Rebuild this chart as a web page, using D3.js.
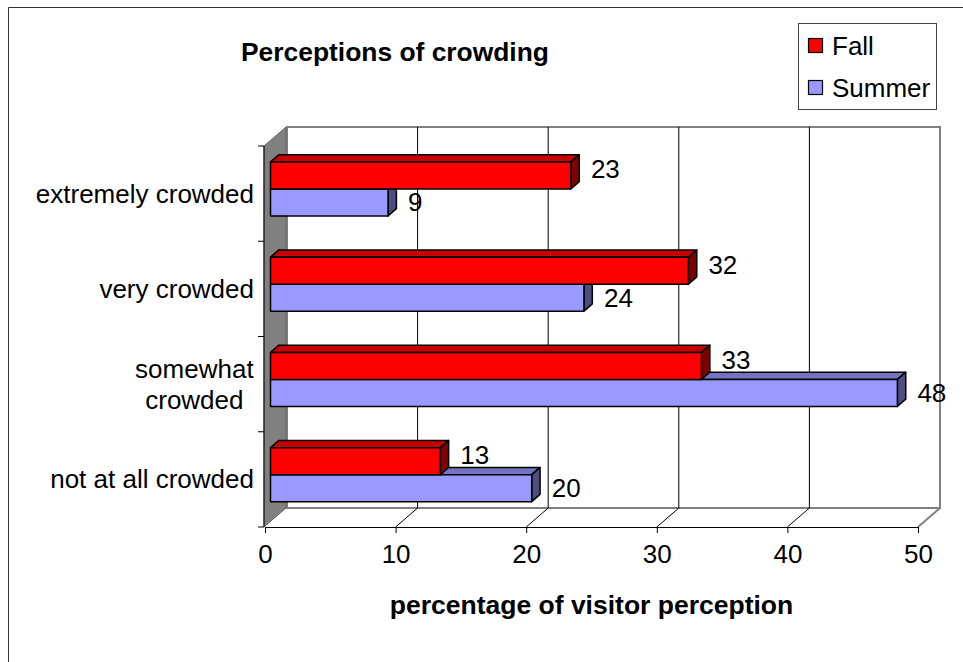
<!DOCTYPE html>
<html>
<head>
<meta charset="utf-8">
<script src="https://cdn.jsdelivr.net/npm/d3@7"></script>
<style>
  html, body { margin: 0; padding: 0; background: #fff; }
  svg { display: block; font-family: "Liberation Sans", Arial, sans-serif; }
</style>
</head>
<body>
<svg id="chart" width="963" height="662"></svg>
<script>
// Survey responses: share of visitors (%) reporting each level of crowding
const categories = ["extremely crowded", "very crowded", "somewhat crowded", "not at all crowded"];
const fall = [23, 32, 33, 13];
const summer = [9, 24, 48, 20];
const seriesNames = ["Fall", "Summer"];
const xTicks = [0, 10, 20, 30, 40, 50];

const svg = d3.select("#chart");
const fs = 26;

// outer chart frame
svg.append("path")
  .attr("d", "M8.5,662V7.5H963")
  .attr("fill", "none").attr("stroke", "#333").attr("stroke-width", 1);

// 3-D box geometry: front plane plus a depth offset toward the upper right
const depthX = 22, depthY = 19;
const x = d3.scaleLinear().domain([0, 50]).range([265, 918]);
const y = d3.scaleBand().domain(categories).range([146, 527]);
const floorY = y.range()[1], topY = y.range()[0];
const proj = (px, py, d) => [px + depthX * d, py - depthY * d];

const styles = {
  Fall:   { front: "#ff0000", top: "#c80000", side: "#800000", labelShift: -6 },
  Summer: { front: "#9999ff", top: "#7373bf", side: "#4d4d80", labelShift: 0 }
};

// back wall
const wall = svg.append("g");
wall.append("rect")
  .attr("x", x(0) + depthX).attr("y", topY - depthY)
  .attr("width", x(50) - x(0)).attr("height", floorY - topY)
  .attr("fill", "#fff").attr("stroke", "#808080").attr("stroke-width", 2);

// vertical gridlines on the back wall
wall.selectAll("line.grid").data(xTicks.slice(1, -1)).join("line")
  .attr("class", "grid")
  .attr("x1", d => x(d) + depthX).attr("x2", d => x(d) + depthX)
  .attr("y1", topY - depthY).attr("y2", floorY - depthY)
  .attr("stroke", "#000").attr("stroke-width", 1);

// floor depth lines from each tick
wall.selectAll("line.floor").data(xTicks.slice(1)).join("line")
  .attr("class", "floor")
  .attr("x1", d => x(d)).attr("y1", floorY)
  .attr("x2", d => x(d) + depthX).attr("y2", floorY - depthY)
  .attr("stroke", d => d === 50 ? "#808080" : "#000")
  .attr("stroke-width", d => d === 50 ? 2 : 1);

// left side wall
wall.append("polygon")
  .attr("points", [[x(0) - 1, topY], proj(x(0) - 1, topY, 1), proj(x(0) - 1, floorY, 1), [x(0) - 1, floorY]].join(" "))
  .attr("fill", "#808080").attr("stroke", "#666").attr("stroke-width", 1);

// bottom value axis
const xAxis = d3.axisBottom(x).tickValues(xTicks).tickSize(6).tickSizeOuter(0).tickPadding(12);
const gx = svg.append("g").attr("transform", `translate(0,${floorY})`).call(xAxis);
gx.select(".domain").attr("stroke", "#000");
gx.selectAll(".tick line").attr("stroke", "#000");
gx.selectAll(".tick text").attr("font-size", fs).attr("fill", "#000")
  .attr("font-family", "Liberation Sans, Arial, sans-serif");

// left category axis
const gy = svg.append("g");
gy.append("line")
  .attr("x1", x(0) - 1).attr("x2", x(0) - 1).attr("y1", topY).attr("y2", floorY)
  .attr("stroke", "#000");
const boundaries = categories.map(c => y(c)).concat([floorY]);
gy.selectAll("line.tk").data(boundaries).join("line")
  .attr("class", "tk")
  .attr("x1", x(0) - 7).attr("x2", x(0) - 1)
  .attr("y1", d => d).attr("y2", d => d)
  .attr("stroke", "#000");

// category labels (wrapped where the chart wraps them)
const labelRight = 254;
categories.forEach(c => {
  const lines = c === "somewhat crowded" ? ["somewhat", "crowded"] : [c];
  const cy = y(c) + y.bandwidth() / 2;
  const lh = 31;
  const t = gy.append("text")
    .attr("font-size", fs).attr("fill", "#000")
    .attr("text-anchor", lines.length > 1 ? "middle" : "end");
  lines.forEach((ln, i) => {
    t.append("tspan").attr("x", labelRight).attr("y", cy + (i - (lines.length - 1) / 2) * lh)
      .attr("dy", "0.35em").text(ln);
  });
  if (lines.length > 1) {
    const w = t.node().getBBox().width;
    t.selectAll("tspan").attr("x", labelRight - w / 2);
  }
});

// bars: two series stacked vertically within each category band
const barH = 27;
const d0 = 0.25, d1 = 0.63;
const inner = d3.scaleBand().domain(seriesNames).range([0, barH * 2]);
const rows = categories.map((c, i) => ({ c, Fall: fall[i], Summer: summer[i] }));

const bars = svg.append("g");
const labels = [];
rows.forEach(r => {
  const top0 = y(r.c) + y.bandwidth() / 2 - barH;
  // lower series first so the upper bar's front face sits over its top face
  ["Summer", "Fall"].forEach(s => {
    const v = r[s];
    const st = styles[s];
    const yt = top0 + inner(s), yb = yt + inner.bandwidth();
    const x0 = x(0), x1 = x(v);
    const g = bars.append("g").attr("stroke", "#000").attr("stroke-width", 1.5).attr("stroke-linejoin", "round");
    g.append("polygon")
      .attr("points", [proj(x0, yt, d0), proj(x1, yt, d0), proj(x1, yt, d1), proj(x0, yt, d1)].join(" "))
      .attr("fill", st.top);
    g.append("polygon")
      .attr("points", [proj(x1, yt, d0), proj(x1, yb, d0), proj(x1, yb, d1), proj(x1, yt, d1)].join(" "))
      .attr("fill", st.side);
    const f0 = proj(x0, yt, d0), f1 = proj(x1, yb, d0);
    g.append("rect")
      .attr("x", f0[0]).attr("y", f0[1]).attr("width", f1[0] - f0[0]).attr("height", f1[1] - f0[1])
      .attr("fill", st.front);
    labels.push({ v, x: f1[0] + 20, y: (f0[1] + f1[1]) / 2 + st.labelShift });
  });
});

// value labels
svg.append("g").selectAll("text").data(labels).join("text")
  .attr("x", d => d.x).attr("y", d => d.y).attr("dy", "0.35em")
  .attr("font-size", fs).attr("fill", "#000")
  .text(d => d.v);

// title
svg.append("text")
  .attr("x", 241).attr("y", 61)
  .attr("font-size", 26.4).attr("font-weight", "bold").attr("fill", "#000")
  .text("Perceptions of crowding");

// axis title
svg.append("text")
  .attr("x", (x(0) + x(50)) / 2).attr("y", 614)
  .attr("text-anchor", "middle")
  .attr("font-size", 26.5).attr("font-weight", "bold").attr("fill", "#000")
  .text("percentage of visitor perception");

// legend
const lg = svg.append("g");
lg.append("rect")
  .attr("x", 798.5).attr("y", 23.5).attr("width", 138).attr("height", 86)
  .attr("fill", "#fff").attr("stroke", "#444").attr("stroke-width", 1);
seriesNames.forEach((s, i) => {
  const cy = 46 + i * 42;
  lg.append("rect")
    .attr("x", 808.5).attr("y", cy - 7.5).attr("width", 14).attr("height", 14)
    .attr("fill", styles[s].front).attr("stroke", "#000").attr("stroke-width", 1.2);
  lg.append("text")
    .attr("x", 832).attr("y", cy).attr("dy", "0.35em")
    .attr("font-size", fs).attr("fill", "#000")
    .text(s);
});
</script>
</body>
</html>
